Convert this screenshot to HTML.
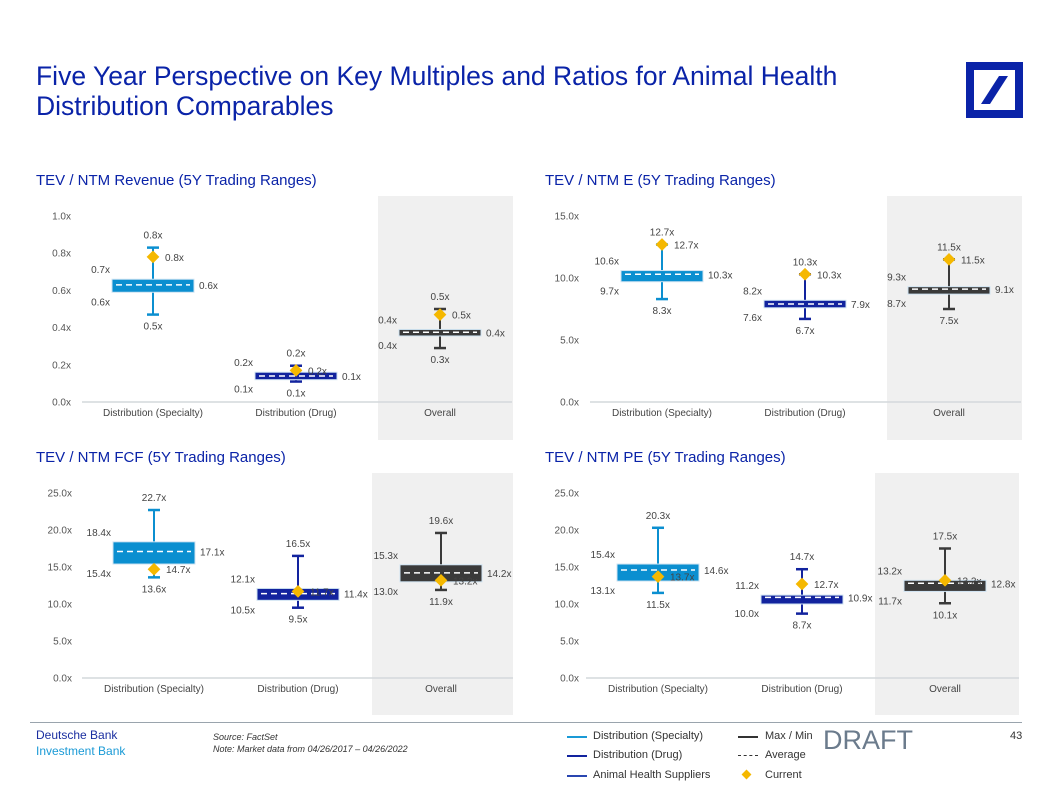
<!DOCTYPE html>
<html><head><meta charset="utf-8">
<style>
html,body{margin:0;padding:0;background:#fff;}
body{width:1057px;height:796px;position:relative;overflow:hidden;font-family:"Liberation Sans",Arial,sans-serif;}
.t{position:absolute;white-space:nowrap;}
</style></head>
<body>
<div class="t" style="left:36px;top:61px;font-size:26.5px;line-height:30px;color:#0a23a8;">Five Year Perspective on Key Multiples and Ratios for Animal Health<br>Distribution Comparables</div>
<svg style="position:absolute;left:966px;top:62px" width="57" height="56" viewBox="0 0 57 56">
<rect x="4" y="4" width="49" height="48" fill="none" stroke="#0a23a8" stroke-width="8"/>
<polygon points="33,14 42,14 24,42 15,42" fill="#0a23a8"/>
</svg>
<div class="t" style="left:36px;top:172px;font-size:15px;color:#0a23a8;">TEV / NTM Revenue (5Y Trading Ranges)</div>
<div class="t" style="left:545px;top:172px;font-size:15px;color:#0a23a8;">TEV / NTM E (5Y Trading Ranges)</div>
<div class="t" style="left:36px;top:449px;font-size:15px;color:#0a23a8;">TEV / NTM FCF (5Y Trading Ranges)</div>
<div class="t" style="left:545px;top:449px;font-size:15px;color:#0a23a8;">TEV / NTM PE (5Y Trading Ranges)</div>

<svg id="charts" style="position:absolute;left:0;top:0" width="1057" height="796"></svg>

<div style="position:absolute;left:30px;top:722px;width:992px;height:1px;background:#9aa4ad;"></div>
<div class="t" style="left:36px;top:728px;font-size:12px;color:#1a2ea0;">Deutsche Bank</div>
<div class="t" style="left:36px;top:744px;font-size:12px;color:#1a9ad6;">Investment Bank</div>
<div class="t" style="left:213px;top:731px;font-size:9px;font-style:italic;color:#333;line-height:12px;">Source: FactSet<br>Note: Market data from 04/26/2017 – 04/26/2022</div>
<div>
<div style="position:absolute;left:567px;top:736px;width:20px;height:2px;background:#1a9ad6;"></div>
<div class="t" style="left:593px;top:730px;font-size:11px;color:#333;">Distribution (Specialty)</div>
<div style="position:absolute;left:567px;top:755px;width:20px;height:2px;background:#12239e;"></div>
<div class="t" style="left:593px;top:749px;font-size:11px;color:#333;">Distribution (Drug)</div>
<div style="position:absolute;left:567px;top:775px;width:20px;height:2px;background:#2a46b0;"></div>
<div class="t" style="left:593px;top:769px;font-size:11px;color:#333;">Animal Health Suppliers</div>
<div style="position:absolute;left:738px;top:736px;width:20px;height:2px;background:#333;"></div>
<div class="t" style="left:765px;top:730px;font-size:11px;color:#333;">Max / Min</div>
<div style="position:absolute;left:738px;top:755px;width:20px;height:0;border-top:1.5px dashed #333;"></div>
<div class="t" style="left:765px;top:749px;font-size:11px;color:#333;">Average</div>
<div style="position:absolute;left:743px;top:771px;width:7px;height:7px;background:#f5b800;transform:rotate(45deg);"></div>
<div class="t" style="left:765px;top:769px;font-size:11px;color:#333;">Current</div>
</div>
<div class="t" style="left:823px;top:725px;font-size:27px;color:#6b7b8c;">DRAFT</div>
<div class="t" style="left:1010px;top:730px;font-size:11px;color:#333;">43</div>

<script>
const categories = ["Distribution (Specialty)", "Distribution (Drug)", "Overall"];
// Revenue
const revTicks = [0, 0.2, 0.4, 0.6, 0.8, 1.0];
const revMax = [0.83, 0.195, 0.50];
const revQ3 = [0.66, 0.16, 0.39];
const revQ1 = [0.59, 0.12, 0.355];
const revAvg = [0.63, 0.14, 0.375];
const revCur = [0.78, 0.17, 0.47];
const revMin = [0.47, 0.11, 0.29];
// Earnings
const eTicks = [0, 5, 10, 15];
const eMax = [12.7, 10.3, 11.5];
const eQ3 = [10.6, 8.2, 9.3];
const eQ1 = [9.7, 7.6, 8.7];
const eAvg = [10.3, 7.9, 9.1];
const eCur = [12.7, 10.3, 11.5];
const eMin = [8.3, 6.7, 7.5];
// FCF
const fTicks = [0, 5, 10, 15, 20, 25];
const fMax = [22.7, 16.5, 19.6];
const fQ3 = [18.4, 12.1, 15.3];
const fQ1 = [15.4, 10.5, 13.0];
const fAvg = [17.1, 11.4, 14.2];
const fCur = [14.7, 11.7, 13.2];
const fMin = [13.6, 9.5, 11.9];
// PE
const pTicks = [0, 5, 10, 15, 20, 25];
const pMax = [20.3, 14.7, 17.5];
const pQ3 = [15.4, 11.2, 13.2];
const pQ1 = [13.1, 10.0, 11.7];
const pAvg = [14.6, 10.9, 12.8];
const pCur = [13.7, 12.7, 13.2];
const pMin = [11.5, 8.7, 10.1];

const colors = ["#0b8fd0", "#12239e", "#3a3a3a"];
const svg = document.getElementById('charts');
const NS = "http://www.w3.org/2000/svg";
function mk(tag, attrs, parent) {
  const e = document.createElementNS(NS, tag);
  for (const k in attrs) e.setAttribute(k, attrs[k]);
  (parent || svg).appendChild(e);
  return e;
}
function txt(x, y, s, anchor, parent, fill) {
  const t = mk('text', {x: x, y: y, 'font-size': 10, fill: fill || '#444', 'text-anchor': anchor || 'middle', 'font-family': '"Liberation Sans", Arial, sans-serif'}, parent);
  t.textContent = s;
  return t;
}
const fmt = v => (Math.round(v * 10) / 10).toFixed(1) + 'x';

function drawChart(name, ticks, mx, q3, q1, av, cu, mn, g) {
  const grp = mk('g', {});
  
  
  const top = ticks[ticks.length - 1];
  const y = v => g.y0 - (v / top) * (g.y0 - g.yTop);
  const panel = mk('rect', {x: g.px0, y: g.py0, width: g.px1 - g.px0, height: g.py1 - g.py0, fill: '#f0f0f0'}, grp);
  
  
  const base = mk('line', {x1: g.bx0, x2: g.bx1, y1: g.y0, y2: g.y0, stroke: '#d4d8dc', 'stroke-width': 1.5}, grp);
  
  
  ticks.forEach(tv => {
    const t = txt(g.lx, y(tv) + 3.5, fmt(tv), 'end', grp, '#555');
    
    
  });
  categories.forEach((c, i) => {
    const cx = g.cx[i];
    const t = txt(cx, g.y0 + 14, c, 'middle', grp, '#444');
    
    
    const col = colors[i];
    const hw = 41;
    const wh = mk('line', {x1: cx, x2: cx, y1: y(mx[i]), y2: y(mn[i]), stroke: col, 'stroke-width': 2}, grp);
    
    
    [mx[i], mn[i]].forEach(v => {
      const cap = mk('line', {x1: cx - 6, x2: cx + 6, y1: y(v), y2: y(v), stroke: col, 'stroke-width': 2.5}, grp);
      
      
    });
    const box = mk('rect', {x: cx - hw, y: y(q3[i]), width: hw * 2, height: Math.max(4, y(q1[i]) - y(q3[i])), fill: col, stroke: '#cfe3f2', 'stroke-width': 1}, grp);
    
    
    const avl = mk('line', {x1: cx - hw + 4, x2: cx + hw - 4, y1: y(av[i]), y2: y(av[i]), stroke: '#fff', 'stroke-width': 1.5, 'stroke-dasharray': '6,4'}, grp);
    
    
    const d = mk('rect', {x: cx - 4.5, y: y(cu[i]) - 4.5, width: 9, height: 9, fill: '#f5b800', transform: 'rotate(45 ' + cx + ' ' + y(cu[i]) + ')'}, grp);
    
    
    const l1 = txt(cx, y(mx[i]) - 9, fmt(mx[i]), 'middle', grp);
    
    
    const l2 = txt(cx + 12, y(cu[i]) + 4, fmt(cu[i]), 'start', grp);
    
    
    const l3 = txt(cx - hw - 2, y(q3[i]) - 6, fmt(q3[i]), 'end', grp);
    
    
    const l4 = txt(cx - hw - 2, y(q1[i]) + 13, fmt(q1[i]), 'end', grp);
    
    
    const l5 = txt(cx + hw + 5, y(av[i]) + 4, fmt(av[i]), 'start', grp);
    
    
    const l6 = txt(cx, y(mn[i]) + 15, fmt(mn[i]), 'middle', grp);
    
    
  });
}
drawChart('revenue-chart', revTicks, revMax, revQ3, revQ1, revAvg, revCur, revMin,
  {y0: 402, yTop: 216, lx: 71, bx0: 82, bx1: 512, cx: [153, 296, 440], px0: 378, px1: 513, py0: 196, py1: 440});
drawChart('earnings-chart', eTicks, eMax, eQ3, eQ1, eAvg, eCur, eMin,
  {y0: 402, yTop: 216, lx: 579, bx0: 590, bx1: 1021, cx: [662, 805, 949], px0: 887, px1: 1022, py0: 196, py1: 440});
drawChart('fcf-chart', fTicks, fMax, fQ3, fQ1, fAvg, fCur, fMin,
  {y0: 678, yTop: 493, lx: 72, bx0: 82, bx1: 513, cx: [154, 298, 441], px0: 372, px1: 513, py0: 473, py1: 715});
drawChart('pe-chart', pTicks, pMax, pQ3, pQ1, pAvg, pCur, pMin,
  {y0: 678, yTop: 493, lx: 579, bx0: 586, bx1: 1019, cx: [658, 802, 945], px0: 875, px1: 1019, py0: 473, py1: 715});
</script>
</body></html>
